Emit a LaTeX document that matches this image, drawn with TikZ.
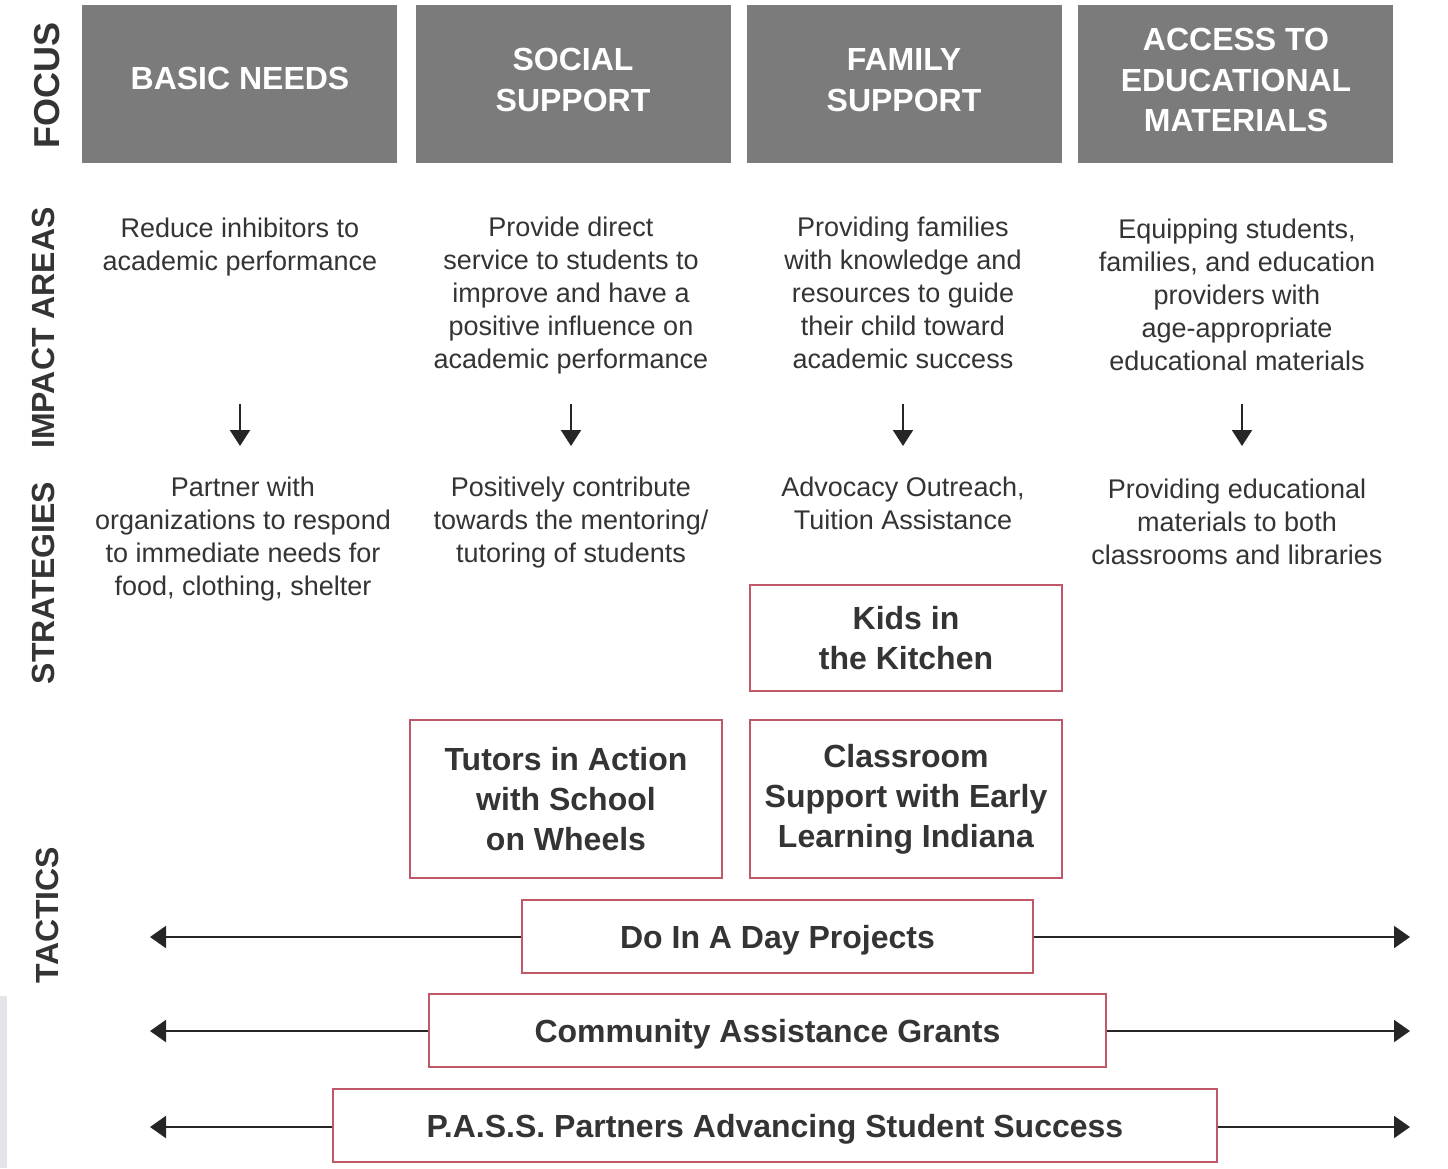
\documentclass[tikz,border=0pt]{standalone}
\usepackage{fontspec}
\setmainfont{Liberation Sans}
\usetikzlibrary{arrows.meta}
\definecolor{hdr}{RGB}{123,123,123}
\definecolor{boxred}{RGB}{192,88,104}
\definecolor{txt}{RGB}{52,52,52}
\definecolor{strip}{RGB}{228,229,232}
\begin{document}
\begin{tikzpicture}[x=1pt,y=-1pt,
 hdrbox/.style={fill=hdr, draw=none, minimum width=315pt, minimum height=158pt, inner sep=0pt},
 hdrtext/.style={text=white, font=\fontsize{32}{40.5}\selectfont\bfseries, align=center, inner sep=0pt},
 side/.style={rotate=90, font=\fontsize{32}{36}\selectfont\bfseries, text=txt, inner sep=0pt},
 body/.style={font=\fontsize{27}{33}\selectfont, text=txt, align=center, inner sep=0pt},
 tactic/.style={draw=boxred, line width=2.5pt, fill=white, inner sep=0pt, font=\fontsize{32}{40}\selectfont\bfseries, text=txt, align=center},
 oneline/.style={text height=23pt, text depth=0pt},
 flow/.style={line width=2pt, draw=black!85, -{Triangle[length=16pt,width=22pt]}},
 down/.style={line width=2pt, draw=black!85, -{Triangle[length=16pt,width=20pt]}}
]
\useasboundingbox (0,0) rectangle (1448,1168);
\fill[white] (0,0) rectangle (1448,1168);
\fill[strip] (0,996) rectangle (7,1168);

% side labels
\node[side, font=\fontsize{36}{40}\selectfont\bfseries] (lfocus) at (47,85) {FOCUS};
\node[side] (limpact) at (43,328) {IMPACT AREAS};
\node[side] (lstrat) at (43,583) {STRATEGIES};
\node[side] (ltact) at (47,915) {TACTICS};

% headers
\node[hdrbox] (h1) at (239.5,84) {};
\node[hdrbox] (h2) at (573,84) {};
\node[hdrbox] (h3) at (904.5,84) {};
\node[hdrbox] (h4) at (1235.5,84) {};
\node[hdrtext] (h1t) at (240,78) {BASIC NEEDS};
\node[hdrtext] (h2t) at (573,80) {SOCIAL\\SUPPORT};
\node[hdrtext] (h3t) at (904,80) {FAMILY\\SUPPORT};
\node[hdrtext] (h4t) at (1236,80) {ACCESS TO\\EDUCATIONAL\\MATERIALS};

% impact areas
\node[body] (i1) at (240,247) {Reduce inhibitors to\\academic performance};
\node[body] (i2) at (571,296) {Provide direct\\service to students to\\improve and have a\\positive influence on\\academic performance};
\node[body] (i3) at (903,293) {Providing families\\with knowledge and\\resources to guide\\their child toward\\academic success};
\node[body] (i4) at (1237,295) {Equipping students,\\families, and education\\providers with\\age-appropriate\\educational materials};

% strategies
\node[body] (s1) at (243,539) {Partner with\\organizations to respond\\to immediate needs for\\food, clothing, shelter};
\node[body] (s2) at (571,523) {Positively contribute\\towards the mentoring/\\tutoring of students};
\node[body] (s3) at (903,503) {Advocacy Outreach,\\Tuition Assistance};
\node[body] (s4) at (1237,522) {Providing educational\\materials to both\\classrooms and libraries};

% down arrows
\foreach \i/\x in {1/240,2/571,3/903,4/1242}{
  \coordinate (d\i a) at (\x,404);
  \coordinate (d\i b) at (\x,446);
  \draw[down] (d\i a) -- (d\i b);
}

% tactic boxes
\node[tactic, minimum width=312pt, minimum height=106pt] (kids) at (906,638) {Kids in\\the Kitchen};
\node[tactic, minimum width=312pt, minimum height=158pt] (tutors) at (566,799) {Tutors in Action\\with School\\on Wheels};
\node[tactic, minimum width=312pt, minimum height=158pt] (class) at (906,799) {Classroom\\Support with Early\\Learning Indiana};
\node[tactic, oneline, minimum width=511pt, minimum height=73pt] (doday) at (777.5,936.5) {Do In A Day Projects};
\node[tactic, oneline, minimum width=677pt, minimum height=73pt] (cag) at (767.5,1030.5) {Community Assistance Grants};
\node[tactic, oneline, minimum width=884pt, minimum height=73pt] (pass) at (775,1125.5) {P.A.S.S. Partners Advancing Student Success};

% horizontal arrows
\coordinate (dL) at (150,937);  \coordinate (dR) at (1410,937);
\coordinate (cL) at (150,1031); \coordinate (cR) at (1410,1031);
\coordinate (pL) at (150,1127); \coordinate (pR) at (1410,1127);
\draw[flow] (doday.west |- dL) -- (dL);
\draw[flow] (doday.east |- dR) -- (dR);
\draw[flow] (cag.west |- cL) -- (cL);
\draw[flow] (cag.east |- cR) -- (cR);
\draw[flow] (pass.west |- pL) -- (pL);
\draw[flow] (pass.east |- pR) -- (pR);
\end{tikzpicture}
\end{document}
